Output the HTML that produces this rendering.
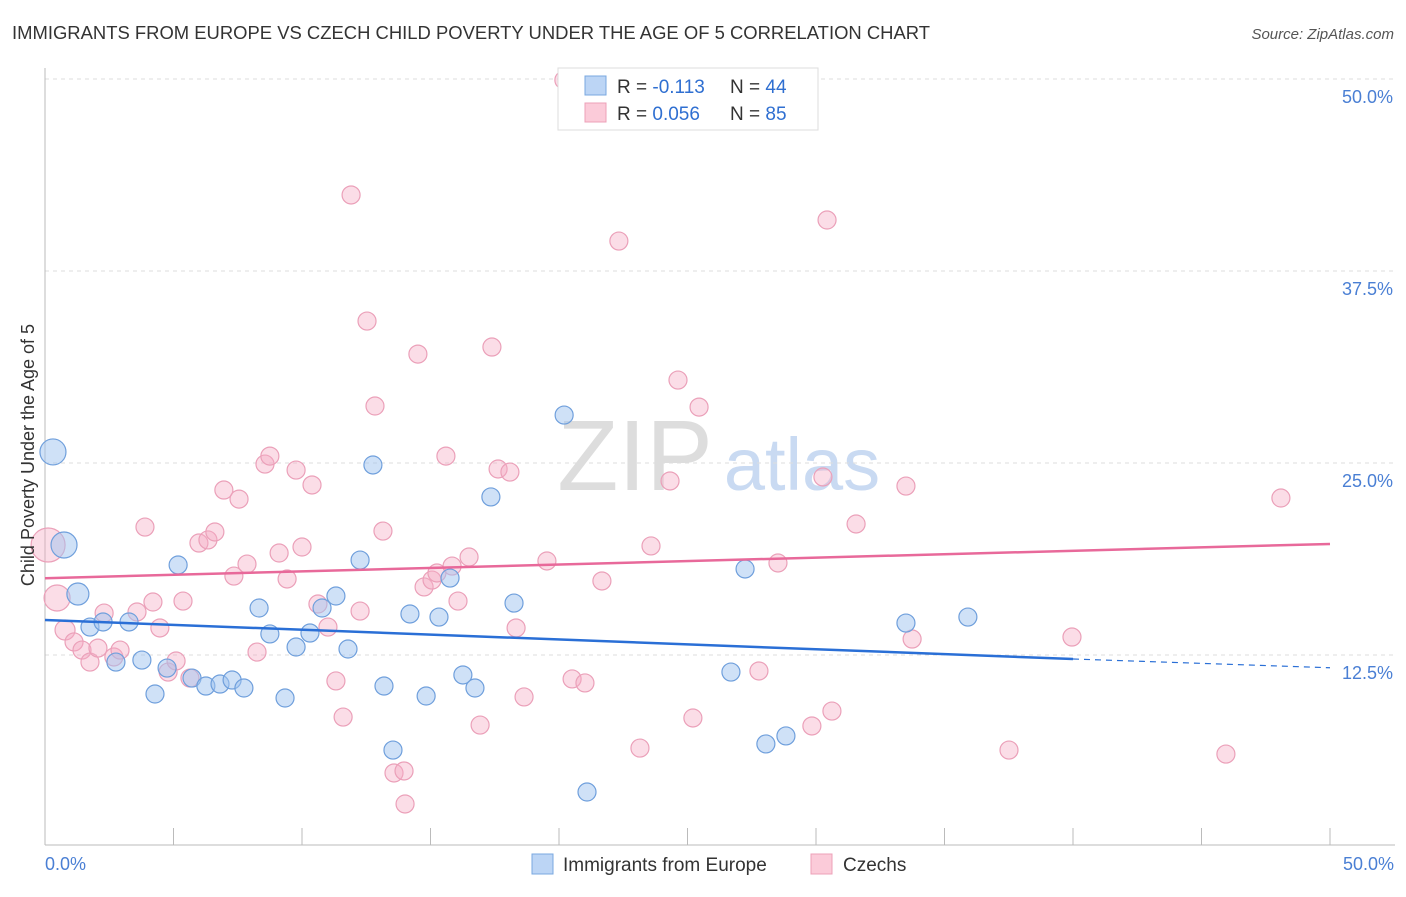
<!DOCTYPE html>
<html><head><meta charset="utf-8"><style>
body{margin:0;background:#fff;font-family:"Liberation Sans",sans-serif;}
svg text{font-family:"Liberation Sans",sans-serif;}
</style></head><body>
<svg id="chart" width="1406" height="892" xmlns="http://www.w3.org/2000/svg">
<text x="12" y="39" font-size="18" fill="#333" textLength="918" lengthAdjust="spacingAndGlyphs">IMMIGRANTS FROM EUROPE VS CZECH CHILD POVERTY UNDER THE AGE OF 5 CORRELATION CHART</text>
<text x="1394" y="39" font-size="15" fill="#555" font-style="italic" text-anchor="end">Source: ZipAtlas.com</text>
<text x="635" y="490" font-size="100" fill="#ddd" font-family="Liberation Serif" text-anchor="middle">ZIP</text>
<text x="802" y="490" font-size="74" fill="#c9daf2" text-anchor="middle">atlas</text>
<g id="grid"></g><g id="axes"></g><g id="pts"></g><g id="lines"></g>
<text x="34" y="455" font-size="18" fill="#333" text-anchor="middle" transform="rotate(-90 34 455)">Child Poverty Under the Age of 5</text>
<text x="45" y="870" font-size="18" fill="#4a7fd4">0.0%</text>
<text x="1394" y="870" font-size="18" fill="#4a7fd4" text-anchor="end">50.0%</text>
<g>
<rect x="558" y="68" width="260" height="62" fill="#fff" stroke="#ddd"/>
<rect x="585" y="76" width="21" height="19" fill="#bcd5f5" stroke="#7aa8e0"/>
<rect x="585" y="103" width="21" height="19" fill="#fbcbd9" stroke="#eca0b8"/>
<text x="617" y="93" font-size="19" fill="#333">R =  <tspan fill="#2f6fd1">-0.113</tspan></text>
<text x="730" y="93" font-size="19" fill="#333">N = <tspan fill="#2f6fd1">44</tspan></text>
<text x="617" y="120" font-size="19" fill="#333">R = <tspan fill="#2f6fd1">0.056</tspan></text>
<text x="730" y="120" font-size="19" fill="#333">N =  <tspan fill="#2f6fd1">85</tspan></text>
</g>
<g>
<rect x="532" y="854" width="21" height="20" fill="#bcd5f5" stroke="#7aa8e0"/>
<text x="563" y="871" font-size="19" fill="#333">Immigrants from Europe</text>
<rect x="811" y="854" width="21" height="20" fill="#fbcbd9" stroke="#eca0b8"/>
<text x="843" y="871" font-size="19" fill="#333">Czechs</text>
</g>
</svg>
<script>
const yTicks=[12.5,25,37.5,50];
const yTickLabels=["12.5%","25.0%","37.5%","50.0%"];
const xTicks=[0,5,10,15,20,25,30,35,40,45,50];
const blueX=[0.31,0.74,1.28,1.75,2.26,2.76,3.27,3.77,4.28,4.75,5.18,5.72,6.26,6.81,7.28,7.74,8.33,8.75,9.34,9.77,10.31,10.78,11.32,11.79,12.26,12.76,13.19,13.54,14.20,14.83,15.33,15.76,16.26,16.73,17.35,18.25,20.20,21.09,26.69,27.24,28.05,28.83,33.50,35.91];
const blueY=[25.72,19.66,16.47,14.32,14.65,12.04,14.65,12.17,9.96,11.65,18.36,11.00,10.48,10.61,10.87,10.35,15.56,13.87,9.70,13.02,13.93,15.56,16.34,12.89,18.68,24.87,10.48,6.31,15.17,9.83,14.97,17.51,11.20,10.35,22.79,15.88,28.12,3.58,11.39,18.10,6.71,7.23,14.58,14.97];
const blueR=[13,13,11,9,9,9,9,9,9,9,9,9,9,9,9,9,9,9,9,9,9,9,9,9,9,9,9,9,9,9,9,9,9,9,9,9,9,9,9,9,9,9,9,9];
const pinkX=[0.12,0.47,0.78,1.13,1.44,1.75,2.06,2.30,2.68,2.92,3.58,3.89,4.20,4.47,4.79,5.10,5.37,5.64,5.99,6.34,6.61,6.96,7.35,7.55,7.86,8.25,8.56,8.75,9.11,9.42,9.77,10.00,10.39,10.62,11.01,11.32,11.60,11.91,12.26,12.53,12.84,13.15,13.58,13.97,14.01,14.51,14.75,15.06,15.25,15.60,15.84,16.07,16.50,16.93,17.39,17.63,18.09,18.33,18.64,19.53,20.19,20.51,21.01,21.67,22.33,23.15,23.58,24.32,24.63,25.21,25.45,27.78,28.52,29.84,30.27,30.43,30.62,31.56,33.50,33.74,37.51,39.96,45.95,48.09];
const pinkY=[19.66,16.21,14.13,13.35,12.82,12.04,12.95,15.23,12.37,12.82,15.30,20.83,15.95,14.26,11.39,12.11,16.01,11.00,19.79,19.99,20.51,23.24,17.64,22.65,18.42,12.69,24.93,25.45,19.14,17.45,24.54,19.53,23.57,15.82,14.32,10.81,8.46,42.45,15.36,34.24,28.71,20.57,4.82,4.95,2.80,32.09,16.93,17.38,17.84,25.45,18.29,16.01,18.88,7.94,32.55,24.61,24.41,14.26,9.77,18.62,49.93,10.94,10.68,17.32,39.45,6.44,19.60,23.83,30.40,8.40,28.64,11.46,18.49,7.88,24.09,40.82,8.85,21.03,23.50,13.54,6.31,13.67,6.05,22.72];
const pinkR=[17,13,10];
const blueTrend=[14.78,12.24,11.67];
const pinkTrend=[17.5,19.73];
const X0=45,X1=1330,Y0=847,YPX=192/12.5;
const sx=v=>X0+(X1-X0)*v/50, sy=v=>Y0-v*YPX;
const NS="http://www.w3.org/2000/svg";
function mk(tag,attrs,parent){const e=document.createElementNS(NS,tag);for(const k in attrs)e.setAttribute(k,attrs[k]);document.getElementById(parent).appendChild(e);return e;}
yTicks.forEach((t,i)=>{
 const g=mk('line',{x1:45,x2:1395,y1:sy(t),y2:sy(t),stroke:'#ddd','stroke-dasharray':'4,4'},'grid');
 
 
 const tx=mk('text',{x:1393,y:sy(t)+24,'font-size':18,fill:'#4a7fd4','text-anchor':'end'},'grid');
 tx.textContent=yTickLabels[i];
 
 
});
const ax=mk('line',{x1:45,x2:1395,y1:845,y2:845,stroke:'#bbb'},'axes');


const ay=mk('line',{x1:45,x2:45,y1:68,y2:845,stroke:'#bbb'},'axes');


xTicks.forEach(t=>{
 const l=mk('line',{x1:sx(t),x2:sx(t),y1:828,y2:845,stroke:'#bbb'},'axes');
 
 
});
pinkX.forEach((v,i)=>{
 const c=mk('circle',{cx:sx(v),cy:sy(pinkY[i]),r:pinkR[i]||9,fill:'rgba(245,170,195,0.4)',stroke:'#eba0b9','stroke-width':1.2},'pts');
 
 
});
blueX.forEach((v,i)=>{
 const c=mk('circle',{cx:sx(v),cy:sy(blueY[i]),r:blueR[i],fill:'rgba(160,195,240,0.5)',stroke:'#6f9fdc','stroke-width':1.2},'pts');
 
 
});
const b1=mk('line',{x1:sx(0),y1:sy(blueTrend[0]),x2:sx(40),y2:sy(blueTrend[1]),stroke:'#2a6fd6','stroke-width':2.5},'lines');


const b2=mk('line',{x1:sx(40),y1:sy(blueTrend[1]),x2:sx(50),y2:sy(blueTrend[2]),stroke:'#2a6fd6','stroke-width':1.2,'stroke-dasharray':'6,5'},'lines');


const p1=mk('line',{x1:sx(0),y1:sy(pinkTrend[0]),x2:sx(50),y2:sy(pinkTrend[1]),stroke:'#e8699a','stroke-width':2.5},'lines');


</script>
</body></html>
